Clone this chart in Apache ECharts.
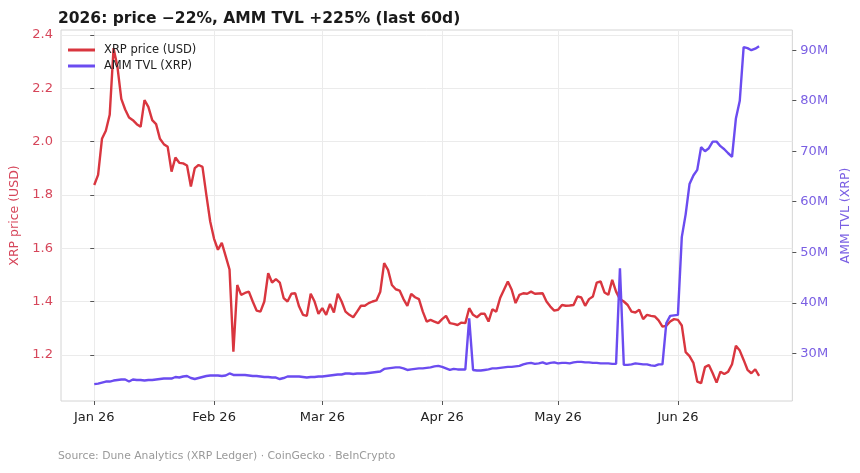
<!DOCTYPE html>
<html>
<head>
<meta charset="utf-8">
<script src="https://cdn.jsdelivr.net/npm/echarts@6/dist/echarts.min.js"></script>
<style>
  html, body { margin: 0; padding: 0; background: #fff; }
  #chart { width: 860px; height: 473px; }
</style>
</head>
<body>
<div id="chart"></div>
<script>
// daily series, Jan 1 2026 -> Jun 22 2026 (x = day number from Jan 1)
var price = [
  1.837, 1.875, 2.01, 2.04, 2.10, 2.35, 2.28, 2.16, 2.12, 2.09,
  2.08, 2.065, 2.055, 2.155, 2.13, 2.08, 2.065, 2.01, 1.99, 1.98,
  1.887, 1.94, 1.92, 1.918, 1.91, 1.831, 1.90, 1.912, 1.905, 1.80,
  1.70, 1.635, 1.594, 1.62, 1.57, 1.52, 1.212, 1.462, 1.425, 1.432,
  1.437, 1.40, 1.366, 1.362, 1.40, 1.506, 1.471, 1.484, 1.471, 1.413,
  1.40, 1.429, 1.431, 1.381, 1.35, 1.346, 1.429, 1.40, 1.354, 1.375,
  1.35, 1.391, 1.359, 1.429, 1.40, 1.362, 1.35, 1.341, 1.362, 1.384,
  1.384, 1.394, 1.40, 1.404, 1.437, 1.544, 1.519, 1.462, 1.446, 1.441,
  1.409, 1.384, 1.429, 1.416, 1.409, 1.362, 1.325, 1.331, 1.325, 1.319,
  1.334, 1.346, 1.319, 1.316, 1.312, 1.321, 1.319, 1.375, 1.35, 1.341,
  1.354, 1.354, 1.325, 1.371, 1.362, 1.413, 1.444, 1.475, 1.444, 1.394,
  1.425, 1.431, 1.429, 1.437, 1.429, 1.43, 1.431, 1.40, 1.381, 1.366,
  1.369, 1.387, 1.384, 1.385, 1.387, 1.419, 1.415, 1.384, 1.409, 1.419,
  1.471, 1.475, 1.434, 1.425, 1.481, 1.437, 1.409, 1.40, 1.387, 1.362,
  1.359, 1.369, 1.334, 1.35, 1.346, 1.344, 1.329, 1.306, 1.309, 1.325,
  1.334, 1.331, 1.31, 1.21, 1.195, 1.17, 1.10, 1.094, 1.154, 1.162,
  1.131, 1.096, 1.137, 1.128, 1.137, 1.165, 1.234, 1.216, 1.181, 1.144,
  1.131, 1.146, 1.121
];

// AMM TVL in millions of XRP
var tvl = [
  23.9, 24.0, 24.2, 24.4, 24.4, 24.6, 24.7, 24.8, 24.8, 24.4,
  24.8, 24.7, 24.7, 24.6, 24.7, 24.7, 24.8, 24.9, 25.0, 25.0,
  25.0, 25.3, 25.2, 25.4, 25.5, 25.1, 24.9, 25.1, 25.3, 25.5,
  25.6, 25.6, 25.6, 25.5, 25.6, 26.0, 25.7, 25.7, 25.7, 25.7,
  25.6, 25.5, 25.5, 25.4, 25.3, 25.3, 25.2, 25.2, 24.9, 25.1,
  25.4, 25.4, 25.4, 25.4, 25.3, 25.2, 25.3, 25.3, 25.4, 25.4,
  25.5, 25.6, 25.7, 25.8, 25.8, 26.0, 26.0, 25.9, 26.0, 26.0,
  26.0, 26.1, 26.2, 26.3, 26.4, 26.9, 27.0, 27.1, 27.2, 27.2,
  27.0, 26.7, 26.8, 26.9, 27.0, 27.0, 27.1, 27.2, 27.4, 27.5,
  27.3, 27.0, 26.7, 26.9, 26.8, 26.8, 26.8, 36.9, 26.7, 26.6,
  26.6, 26.7, 26.8, 27.0, 27.0, 27.1, 27.2, 27.3, 27.3, 27.4,
  27.5, 27.8, 28.0, 28.1, 27.9, 28.0, 28.2, 27.9, 28.1, 28.2,
  28.0, 28.1, 28.1, 28.0, 28.2, 28.3, 28.3, 28.2, 28.2, 28.1,
  28.1, 28.0, 28.0, 28.0, 27.9, 27.9, 46.8, 27.7, 27.7, 27.8,
  28.0, 27.9, 27.8, 27.8, 27.6, 27.5, 27.8, 27.8, 36.0, 37.4,
  37.5, 37.6, 53.0, 57.5, 63.5, 65.2, 66.3, 70.8, 70.0, 70.6,
  71.9, 71.9, 71.0, 70.4, 69.6, 68.9, 76.5, 80.0, 90.6, 90.4,
  90.0, 90.3, 90.8
];

var monthLabels = ['Jan 26', 'Feb 26', 'Mar 26', 'Apr 26', 'May 26', 'Jun 26'];
var monthDays = [0, 31, 59, 90, 120, 151];   // day number of each month start
var priceTicks = [1.2, 1.4, 1.6, 1.8, 2.0, 2.2, 2.4];
var tvlTicks = [30, 40, 50, 60, 70, 80, 90];

var priceData = [], tvlData = [];
for (var i = 0; i < price.length; i++) {
  priceData.push([i, price[i]]);
  tvlData.push([i, tvl[i]]);
}
var lastDay = price.length - 1;
var pad = lastDay * 0.05;

var font = 'DejaVu Sans';
var redLine = '#d9363f', redText = '#d6465a';
var purpleLine = '#6b4cf0', purpleText = '#7a5fe3';

var myChart = echarts.init(document.getElementById('chart'));

var option = {
  backgroundColor: '#fff',
  animation: false,
  textStyle: { fontFamily: font },
  title: {
    text: '2026: price \u221222%, AMM TVL +225% (last 60d)',
    left: 53,
    top: 6,
    textStyle: { fontFamily: font, fontSize: 15.5, fontWeight: 'bold', color: '#1a1a1a' }
  },
  grid: {
    left: 59, right: 65, top: 30, bottom: 72,
    show: true, borderColor: '#d4d4d4', borderWidth: 1, backgroundColor: 'transparent'
  },
  legend: {
    left: 63, top: 39, orient: 'vertical',
    icon: 'rect', itemWidth: 27, itemHeight: 3, itemGap: 4,
    textStyle: { fontFamily: font, fontSize: 11.5, color: '#222', padding: [0, 0, 0, 4] },
    data: ['XRP price (USD)', 'AMM TVL (XRP)']
  },
  xAxis: {
    type: 'value',
    min: -pad,
    max: lastDay + pad,
    axisLine: { show: false },
    axisTick: { show: true, length: 4, lineStyle: { color: '#555' }, customValues: monthDays },
    axisLabel: {
      customValues: monthDays,
      fontFamily: font, fontSize: 13, color: '#222', margin: 10,
      formatter: function (v) { return monthLabels[monthDays.indexOf(Math.round(v))]; }
    },
    splitLine: { show: true, lineStyle: { color: '#ebebeb', width: 1 } }
  },
  yAxis: [{
    type: 'value',
    min: 1.027, max: 2.418,
    name: 'XRP price (USD)',
    nameLocation: 'middle', nameRotate: 90, nameGap: 40,
    nameTextStyle: { fontFamily: font, fontSize: 12.5, color: redText },
    axisLine: { show: false },
    axisTick: { show: true, length: 4, lineStyle: { color: '#555' }, customValues: priceTicks },
    axisLabel: {
      customValues: priceTicks,
      fontFamily: font, fontSize: 13, color: redText, margin: 8,
      formatter: function (v) { return v.toFixed(1); }
    },
    splitLine: { show: true, lineStyle: { color: '#ebebeb', width: 1 } }
  }, {
    type: 'value',
    min: 20.55, max: 94.0,
    name: 'AMM TVL (XRP)',
    nameLocation: 'middle', nameRotate: 90, nameGap: 44,
    nameTextStyle: { fontFamily: font, fontSize: 12.5, color: purpleText },
    axisLine: { show: false },
    axisTick: { show: true, length: 4, lineStyle: { color: '#555' }, customValues: tvlTicks },
    axisLabel: {
      customValues: tvlTicks,
      fontFamily: font, fontSize: 13, color: purpleText, margin: 8,
      formatter: function (v) { return Math.round(v) + 'M'; }
    },
    splitLine: { show: false }
  }],
  series: [{
    name: 'XRP price (USD)',
    type: 'line',
    yAxisIndex: 0,
    data: priceData,
    symbol: 'none',
    lineStyle: { color: redLine, width: 2.4 },
    itemStyle: { color: redLine },
    z: 3
  }, {
    name: 'AMM TVL (XRP)',
    type: 'line',
    yAxisIndex: 1,
    data: tvlData,
    symbol: 'none',
    lineStyle: { color: purpleLine, width: 2.4 },
    itemStyle: { color: purpleLine },
    z: 4
  }],
  graphic: [{
    type: 'text',
    left: 58, top: 451,
    style: {
      text: 'Source: Dune Analytics (XRP Ledger) \u00b7 CoinGecko \u00b7 BeInCrypto',
      fontFamily: font, fontSize: 10.8, fill: '#9a9a9a'
    }
  }]
};

myChart.setOption(option);
window.onresize = function () { myChart.resize(); };
</script>
</body>
</html>
